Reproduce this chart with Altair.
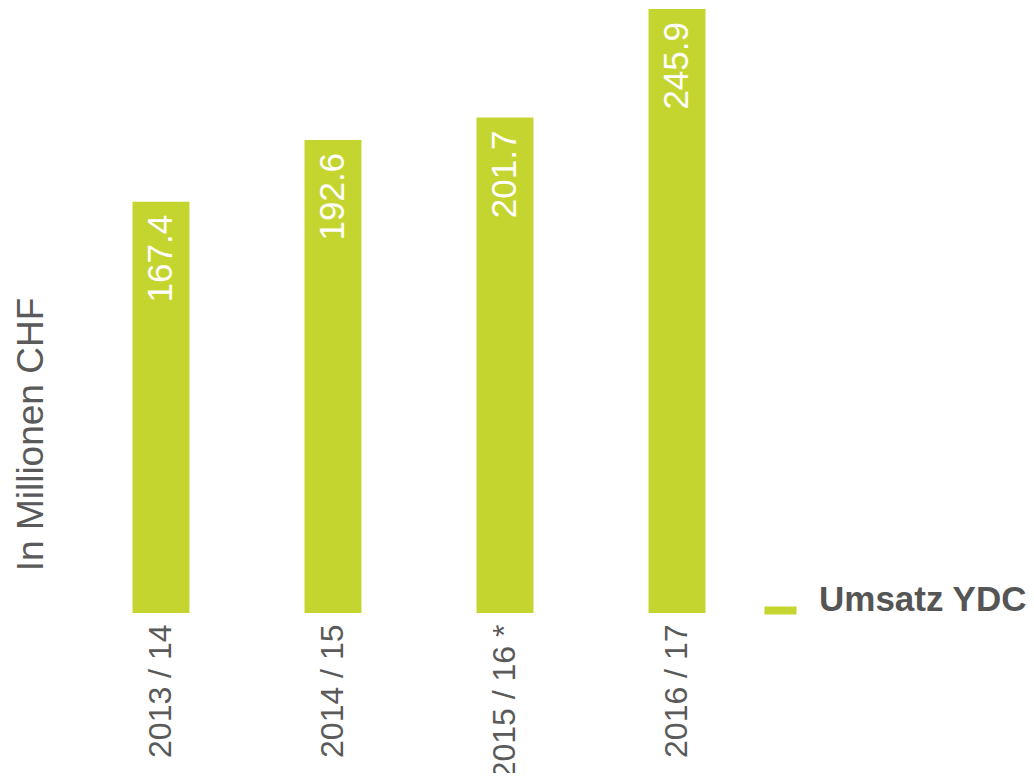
import altair as alt
import pandas as pd

years = ["2013 / 14", "2014 / 15", "2015 / 16 *", "2016 / 17"]
values = [167.4, 192.6, 201.7, 245.9]
series = ["Umsatz YDC"] * 4

df = pd.DataFrame({"Jahr": years, "Umsatz": values, "Serie": series})

GREEN = "#c5d52f"
FONT = "Liberation Sans, Arial, sans-serif"

base = alt.Chart(df)

xenc = alt.X(
    "Jahr:N",
    sort=years,
    scale=alt.Scale(paddingInner=0.669, paddingOuter=0.189),
    axis=alt.Axis(
        title=None, labelAngle=-90, labelFont=FONT, labelFontSize=32,
        labelColor="#5a5a5a", labelPadding=11, labelLimit=0,
        ticks=False, domain=False, grid=False,
    ),
)

bars = base.mark_bar().encode(
    x=xenc,
    y=alt.Y(
        "Umsatz:Q",
        scale=alt.Scale(domain=[0, 245.9], nice=False, zero=True),
        axis=alt.Axis(
            title="In Millionen CHF", labels=False, ticks=False, domain=False, grid=False,
            titleFont=FONT, titleFontSize=37, titleFontWeight="normal", titleColor="#5a5a5a",
            titleX=-58, titleY=425, titleAngle=270, titleAlign="center",
            titleBaseline="alphabetic", titleLimit=0,
        ),
    ),
    color=alt.Color(
        "Serie:N",
        scale=alt.Scale(domain=["Umsatz YDC"], range=[GREEN]),
        legend=alt.Legend(
            title=None, orient="none", legendX=663, legendY=584,
            symbolType="M-1,-0.25H1V0.25H-1Z", symbolSize=1024, symbolStrokeWidth=0,
            labelFont=FONT, labelFontSize=35, labelFontWeight="bold",
            labelColor="#555555", labelOffset=21, labelLimit=0,
            labelBaseline="alphabetic", padding=0,
        ),
    ),
)

labels = base.mark_text(
    angle=270, align="right", baseline="middle", dx=-13,
    color="white", font=FONT, fontSize=35,
).encode(
    x=alt.X("Jahr:N", sort=years),
    y=alt.Y("Umsatz:Q"),
    text=alt.Text("Umsatz:Q", format=".1f"),
)

chart = (
    alt.layer(bars, labels)
    .properties(
        width=638, height=604,
        padding={"left": 92, "top": 1, "right": 288, "bottom": 160},
        autosize=alt.AutoSizeParams(type="none"),
        background="white",
    )
    .configure_view(stroke=None)
)

chart.save("out.html", embed_options={"renderer": "svg", "actions": False})
